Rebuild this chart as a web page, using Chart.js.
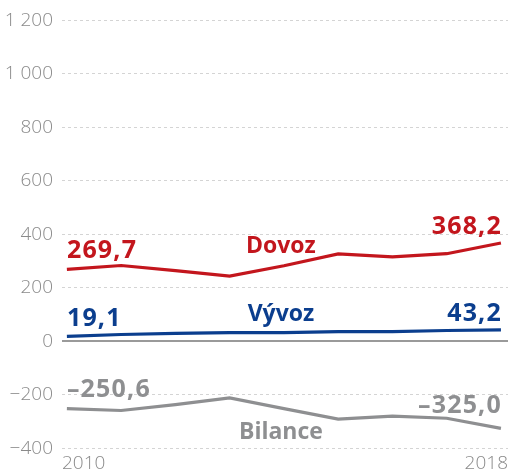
<!DOCTYPE html>
<html>
<head>
<meta charset="utf-8">
<script src="https://cdn.jsdelivr.net/npm/chart.js@4/dist/chart.umd.min.js"></script>
<style>
html,body{margin:0;padding:0;background:#fff;}
#wrap{width:512px;height:473px;position:relative;}
</style>
</head>
<body>
<div id="wrap"><canvas id="c" width="512" height="473"></canvas></div>
<script>
// ---- data ----
const years = [2010, 2011, 2012, 2013, 2014, 2015, 2016, 2017, 2018];
const dovoz = [269.7, 284, 265, 244, 283, 327, 316, 328, 368.2];
const vyvoz = [19.1, 26, 30, 33, 33, 37, 37, 41, 43.2];
const bilance = [-250.6, -258, -236, -211, -251, -290, -279, -287, -325.0];
const seriesNames = ['Dovoz', 'Vývoz', 'Bilance'];
const yTicks = [-400, -200, 0, 200, 400, 600, 800, 1000, 1200];

// ---- styles ----
const colors = ['#c3161d', '#0b3e8e', '#8e8f91'];
const FONT = "'Open Sans', 'Noto Sans', sans-serif";
// label placement styling (offsets in px relative to the line)
const labelStyle = [
  {firstGap: 11, lastGap: 9, nameGap: -13},
  {firstGap: 10, lastGap: 9, nameGap: -12},
  {firstGap: 12, lastGap: 15, nameGap: 30}
];

function fmt(v) {
  let s = Math.abs(v).toFixed(1).replace('.', ',');
  return (v < 0 ? '\u2013' : '') + s;
}
function fmtTick(v) {
  const a = Math.abs(v);
  let s = a >= 1000 ? String(a).replace(/(\d)(\d{3})$/, '$1 $2') : String(a);
  return (v < 0 ? '\u2212' : '') + s;
}

const seriesData = [dovoz, vyvoz, bilance];
const xMin = years[0] - 0.09, xMax = years[years.length - 1] + 0.13;

const labelsPlugin = {
  id: 'labels',
  afterDatasetsDraw(chart) {
    const ctx = chart.ctx;
    const xs = chart.scales.x, ys = chart.scales.y;
    ctx.save();
    seriesData.forEach((arr, i) => {
      const st = labelStyle[i];
      ctx.fillStyle = colors[i];
      ctx.textBaseline = 'alphabetic';
      ctx.font = "700 25px " + FONT;
      try { ctx.letterSpacing = '1.2px'; } catch (e) {}
      // first value
      ctx.textAlign = 'left';
      ctx.fillText(fmt(arr[0]), xs.getPixelForValue(years[0]), ys.getPixelForValue(arr[0]) - st.firstGap);
      // last value
      const n = arr.length - 1;
      ctx.textAlign = 'right';
      ctx.fillText(fmt(arr[n]), xs.getPixelForValue(years[n]) + 1, ys.getPixelForValue(arr[n]) - st.lastGap);
      // series name, centred over 2014
      const k = 4;
      try { ctx.letterSpacing = '0px'; } catch (e) {}
      ctx.font = "700 23px " + FONT;
      ctx.textAlign = 'center';
      const yy = ys.getPixelForValue(arr[k]);
      ctx.fillText(seriesNames[i], xs.getPixelForValue(years[k]) - 3, yy + st.nameGap);
    });
    ctx.restore();
  }
};

new Chart(document.getElementById('c'), {
  type: 'line',
  data: {
    datasets: seriesData.map((arr, i) => ({
      label: seriesNames[i],
      data: arr.map((v, j) => ({x: years[j], y: v})),
      borderColor: colors[i],
      borderWidth: 3.2,
      pointRadius: 0,
      tension: 0,
      fill: false,
      clip: false
    }))
  },
  options: {
    responsive: false,
    animation: false,
    devicePixelRatio: 1,
    layout: {padding: {top: 18, left: 0, right: 0, bottom: 0}},
    plugins: {legend: {display: false}, tooltip: {enabled: false}},
    scales: {
      x: {
        type: 'linear',
        min: xMin,
        max: xMax,
        afterBuildTicks(scale) {
          scale.ticks = [{value: xMin}, {value: xMax}];
        },
        afterFit(scale) { scale.height = 473 - 18 - 430.5; },
        grid: {display: false, drawTicks: false},
        border: {display: false},
        ticks: {
          align: 'inner',
          autoSkip: false,
          maxRotation: 0,
          padding: 4,
          color: '#8a8a8a',
          font: {family: FONT, size: 19, weight: '300'},
          callback: (v, idx) => idx === 0 ? String(years[0]) : String(years[years.length - 1])
        }
      },
      y: {
        min: -400,
        max: 1200,
        afterBuildTicks(scale) {
          scale.ticks = yTicks.map(v => ({value: v}));
        },
        afterFit(scale) { scale.width = 62; },
        grid: {
          drawTicks: false,
          color: c => (c.tick && c.tick.value === 0) ? '#9a9a9a' : '#d4d4d4',
          lineWidth: c => (c.tick && c.tick.value === 0) ? 2 : 1
        },
        border: {
          display: false,
          dash: c => (c.tick && c.tick.value === 0) ? [] : [3, 3]
        },
        ticks: {
          padding: 9,
          color: '#8a8a8a',
          font: {family: FONT, size: 19, weight: '300'},
          callback: v => fmtTick(v)
        }
      }
    }
  },
  plugins: [labelsPlugin]
});
</script>
</body>
</html>
